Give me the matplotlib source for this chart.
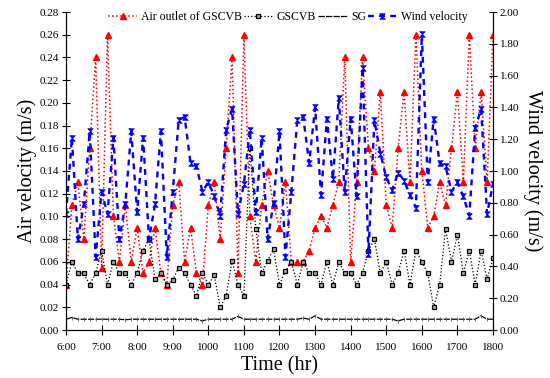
import numpy as np
import matplotlib
matplotlib.use('Agg')
import matplotlib.pyplot as plt
from matplotlib.ticker import FormatStrFormatter

plt.rcParams['font.family'] = ['Liberation Serif', 'DejaVu Serif']

# readings every 10 minutes from 6:00 to 18:00
time = np.linspace(6, 18, 73)

air_outlet = [0.04, 0.11, 0.13, 0.08, 0.16, 0.24, 0.055, 0.26, 0.10, 0.06,
              0.11, 0.06, 0.09, 0.05, 0.06, 0.09, 0.05, 0.04, 0.11, 0.13,
              0.06, 0.09, 0.05, 0.04, 0.11, 0.13, 0.08, 0.16, 0.24, 0.05,
              0.26, 0.10, 0.06, 0.11, 0.14, 0.11, 0.09, 0.13, 0.06, 0.06,
              0.06, 0.07, 0.09, 0.10, 0.09, 0.11, 0.13, 0.24, 0.06, 0.13,
              0.24, 0.16, 0.14, 0.21, 0.11, 0.09, 0.16, 0.21, 0.13, 0.26,
              0.14, 0.09, 0.10, 0.13, 0.11, 0.16, 0.21, 0.13, 0.26, 0.16,
              0.21, 0.13, 0.26]

gscvb = [0.04, 0.06, 0.05, 0.05, 0.04, 0.05, 0.07, 0.04, 0.06, 0.05,
         0.05, 0.04, 0.05, 0.07, 0.08, 0.045, 0.05, 0.04, 0.044, 0.055,
         0.05, 0.04, 0.03, 0.05, 0.04, 0.048, 0.02, 0.03, 0.061, 0.04,
         0.03, 0.16, 0.089, 0.05, 0.061, 0.071, 0.04, 0.052, 0.06, 0.04,
         0.06, 0.05, 0.05, 0.04, 0.06, 0.04, 0.06, 0.05, 0.05, 0.04,
         0.05, 0.07, 0.08, 0.05, 0.06, 0.04, 0.05, 0.07, 0.04, 0.07,
         0.06, 0.05, 0.02, 0.04, 0.089, 0.06, 0.084, 0.05, 0.07, 0.04,
         0.07, 0.045, 0.063]

sg = [0.0095, 0.011, 0.0095, 0.0095, 0.0095, 0.0095, 0.0095, 0.0095, 0.0095, 0.0095,
      0.009, 0.0095, 0.0095, 0.0095, 0.0095, 0.0095, 0.0095, 0.0095, 0.0095, 0.0095,
      0.0095, 0.0095, 0.0095, 0.008, 0.0095, 0.0095, 0.0095, 0.0095, 0.0095, 0.012,
      0.0095, 0.0095, 0.0095, 0.0095, 0.0095, 0.0095, 0.0095, 0.0095, 0.0095, 0.0095,
      0.0105, 0.0095, 0.0125, 0.0095, 0.0095, 0.0095, 0.0095, 0.0095, 0.0095, 0.0095,
      0.0095, 0.0095, 0.0095, 0.0095, 0.0095, 0.0095, 0.008, 0.0095, 0.0095, 0.0095,
      0.0095, 0.0095, 0.0095, 0.0095, 0.0095, 0.0095, 0.0095, 0.0095, 0.0095, 0.0095,
      0.0125, 0.0095, 0.0095]

wind = [0.73, 1.21, 0.57, 0.79, 1.25, 0.46, 0.87, 0.73, 1.21, 0.57,
        0.79, 1.25, 0.74, 1.21, 0.57, 0.79, 1.25, 0.46, 0.87, 1.32,
        1.34, 1.05, 1.03, 0.87, 0.93, 0.84, 0.72, 1.26, 1.39, 0.73,
        0.92, 1.26, 0.74, 1.21, 0.57, 0.80, 1.25, 0.46, 0.87, 1.32,
        1.34, 1.05, 1.40, 0.85, 1.33, 0.95, 1.46, 0.87, 1.33, 0.84,
        1.65, 0.48, 1.32, 1.11, 0.96, 0.88, 0.99, 0.94, 0.85, 0.77,
        1.86, 0.93, 1.33, 1.05, 1.03, 0.87, 0.93, 0.84, 0.72, 1.27,
        1.39, 0.73, 0.92]

hour_ticks = [6, 7, 8, 9, 10, 11, 12, 13, 14, 15, 16, 17, 18]
hour_labels = ['6:00', '7:00', '8:00', '9:00', '1000', '1100', '1200',
               '1300', '1400', '1500', '1600', '1700', '1800']

# hourglass marker for wind velocity
hourglass = [(-1, 1), (1, 1), (-1, -1), (1, -1), (-1, 1)]

fig = plt.figure(figsize=(5.5, 3.78), dpi=100)
ax = fig.add_axes([66/550, 1 - 330/378, 427/550, 318/378])

l1, = ax.plot(time, air_outlet, color='red', linestyle=':', linewidth=1.1,
              marker='^', markersize=4.5, markerfacecolor='red',
              markeredgecolor='red', label='Air outlet of GSCVB')
l2, = ax.plot(time, gscvb, color='black', linestyle=':', linewidth=0.9,
              marker='s', markersize=3.3, markerfacecolor='0.65',
              markeredgecolor='black', markeredgewidth=0.9, label='GSCVB')
l3, = ax.plot(time, sg, color='black', linestyle=(0, (5, 1)), linewidth=0.9,
              label='SG')
ax.plot(time, sg, color='0.35', linestyle='none', marker='|', markersize=2.5,
        markeredgewidth=0.6)

ax.set_xlim(6, 18)
ax.set_ylim(0, 0.28)
ax.set_yticks(np.arange(0, 0.281, 0.02))
ax.yaxis.set_major_formatter(FormatStrFormatter('%.2f'))
ax.set_xticks(hour_ticks)
ax.set_xticklabels(hour_labels)
ax.tick_params(axis='x', direction='inout', length=7, labelsize=8, pad=6)
ax.tick_params(axis='y', direction='inout', length=6, labelsize=8, pad=2)
ax.spines['top'].set_visible(False)
ax.set_xlabel('Time (hr)', fontsize=14.5, labelpad=3)
ax.set_ylabel('Air velocity (m/s)', fontsize=14.5, labelpad=2)

ax2 = ax.twinx()
l4, = ax2.plot(time, wind, color='blue', linestyle=(0, (2.5, 2.2)), linewidth=1.7,
               marker=hourglass, markersize=4, markerfacecolor='blue',
               markeredgecolor='blue', markeredgewidth=0.5, label='Wind velocity')
ax2.set_ylim(0, 2.0)
ax2.set_yticks(np.arange(0, 2.01, 0.2))
ax2.yaxis.set_major_formatter(FormatStrFormatter('%.2f'))
ax2.tick_params(axis='y', direction='inout', length=6, labelsize=8, pad=2)
ax2.spines['top'].set_visible(False)
ax2.set_ylabel('Wind velocity (m/s)', fontsize=14.5, rotation=270, labelpad=17)

ax2.legend(handles=[l1, l2, l3, l4], loc='center left',
           bbox_to_anchor=(0.098, 1 - 5/318), ncol=4, frameon=False,
           fontsize=8.5, handlelength=2.5, handletextpad=0.3,
           columnspacing=0.15, borderpad=0, borderaxespad=0)

fig.savefig('out.png', dpi=100)
